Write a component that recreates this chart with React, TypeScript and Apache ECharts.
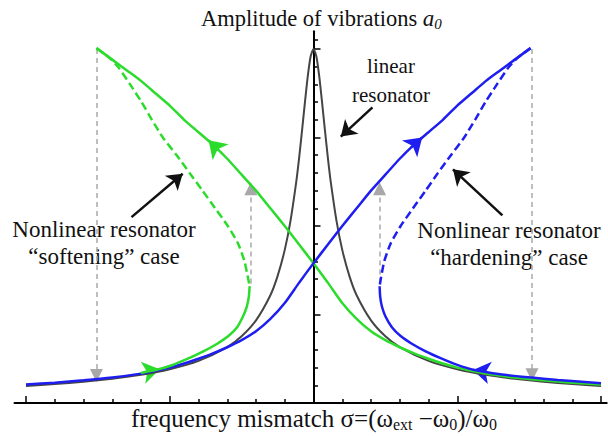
import React, { useEffect, useRef } from "react";
import * as echarts from "echarts";

const SERIF = "'Liberation Serif', 'Times New Roman', serif";
const GREEN = "#2cdc2c";
const BLUE = "#1e1ef0";
const DARK = "#454545";
const GREY = "#a8a8a8";
const INK = "#111111";

// Axis ranges and ticks (σ horizontally, amplitude vertically)
const sigmaMin = -10.4;
const sigmaMax = 10.2;
const sigmaTickMin = -10;
const sigmaTickMax = 10;
const sigmaTickStep = 5;
const ampMin = 0;
const ampMax = 21;
const majorAmpTicks = [5, 10, 15, 20];
const minorAmpTicks = [1, 2, 3, 4, 6, 7, 8, 9, 11, 12, 13, 14, 16, 17, 18, 19, 20.5];

// Linear resonator response [σ, a]
const linearResonator: [number, number][] = [
  [-10, 0.96], [-9, 1.07], [-8, 1.2], [-7, 1.37], [-6, 1.59], [-5, 1.91], [-4, 2.38],
  [-3, 3.16], [-2.5, 3.77], [-2, 4.67], [-1.5, 6.09], [-1.25, 7.17], [-1, 8.65],
  [-0.8, 10.29], [-0.6, 12.49], [-0.5, 13.85], [-0.4, 15.37], [-0.3, 16.96],
  [-0.2, 18.46], [-0.1, 19.58], [0, 20], [0.1, 19.58], [0.2, 18.46], [0.3, 16.96],
  [0.4, 15.37], [0.5, 13.85], [0.6, 12.49], [0.8, 10.29], [1, 8.65], [1.25, 7.17],
  [1.5, 6.09], [2, 4.67], [2.5, 3.77], [3, 3.16], [4, 2.38], [5, 1.91], [6, 1.59],
  [7, 1.37], [8, 1.2], [9, 1.07], [10, 0.96],
];

// Hardening case: stable branch rising from the left up to the peak
const hardeningRising: [number, number][] = [
  [-10, 1.05], [-9, 1.15], [-8, 1.28], [-7, 1.44], [-6, 1.66], [-5.5, 1.82], [-5, 2.0],
  [-4.5, 2.23], [-4, 2.5], [-3.5, 2.8], [-3, 3.15], [-2.5, 3.55], [-2, 4.05],
  [-1.5, 4.75], [-1, 5.65], [-0.5, 6.8], [0, 7.9], [0.5, 8.95], [1, 10.0], [1.5, 11.0],
  [2, 12.0], [2.5, 12.9], [3, 13.8], [3.5, 14.6], [4, 15.3], [4.5, 16.0], [5, 16.8],
  [5.5, 17.5], [6, 18.2], [6.5, 18.8], [7, 19.4], [7.55, 20.05],
];
// Hardening case: unstable branch from the peak down to the turning point
const hardeningUnstable: [number, number][] = [
  [7.55, 20.05], [7.1, 19.5], [6.8, 19.0], [6.38, 18.0], [5.98, 17.0], [5.62, 16.0],
  [5.24, 15.0], [4.78, 14.0], [4.33, 13.0], [3.9, 12.0], [3.46, 11.0], [3.03, 10.0],
  [2.68, 9.0], [2.46, 8.0], [2.34, 7.0], [2.3, 6.6],
];
// Hardening case: lower stable branch from the turning point to the right
const hardeningLower: [number, number][] = [
  [2.3, 6.6], [2.32, 6.0], [2.38, 5.45], [2.5, 4.9], [2.72, 4.3], [3.02, 3.8],
  [3.42, 3.35], [3.9, 2.92], [4.4, 2.55], [5.0, 2.15], [5.6, 1.86], [6.5, 1.62],
  [7.5, 1.45], [8.5, 1.3], [10, 1.12],
];

// Softening case: stable branch from the peak falling to the right
const softeningFalling: [number, number][] = [
  [-7.55, 20.05], [-7, 19.4], [-6.5, 18.8], [-6, 18.2], [-5.5, 17.5], [-5, 16.8],
  [-4.5, 16.0], [-4, 15.3], [-3.5, 14.6], [-3, 13.8], [-2.5, 12.9], [-2, 12.0],
  [-1.5, 11.0], [-1, 10.0], [-0.5, 8.95], [0, 7.9], [0.5, 6.8], [1, 5.65], [1.5, 4.75],
  [2, 4.05], [2.5, 3.55], [3, 3.15], [3.5, 2.8], [4, 2.5], [4.5, 2.23], [5, 2.0],
  [5.5, 1.82], [6, 1.66], [7, 1.44], [8, 1.28], [9, 1.15], [10, 1.05],
];
// Softening case: unstable branch from the peak down to the turning point
const softeningUnstable: [number, number][] = [
  [-7.55, 20.05], [-7.1, 19.5], [-6.8, 19.0], [-6.38, 18.0], [-5.98, 17.0],
  [-5.62, 16.0], [-5.24, 15.0], [-4.76, 14.0], [-4.31, 13.0], [-3.86, 12.0],
  [-3.42, 11.0], [-2.98, 10.0], [-2.62, 9.0], [-2.4, 8.0], [-2.27, 7.0], [-2.22, 6.6],
];
// Softening case: lower stable branch rising to the turning point
const softeningLower: [number, number][] = [
  [-6.0, 1.7], [-5.5, 1.86], [-4.95, 2.12], [-4.35, 2.52], [-3.85, 2.9], [-3.35, 3.35],
  [-2.95, 3.8], [-2.65, 4.3], [-2.45, 4.9], [-2.32, 5.45], [-2.25, 6.0], [-2.22, 6.6],
];

// Jumps between branches (grey dashed arrows)
const jumpArrows: [number, number][][] = [
  [[-7.55, 20.0], [-7.55, 1.55]],
  [[7.6, 20.0], [7.6, 1.6]],
  [[-2.18, 6.75], [-2.18, 12.1]],
  [[2.3, 6.75], [2.3, 12.1]],
];
// Direction of travel along the curves
const softeningFlow: [number, number][][] = [
  [[-3.3, 14.28], [-3.65, 14.84]],
  [[-5.9, 1.72], [-5.35, 1.9]],
];
const hardeningFlow: [number, number][][] = [
  [[3.4, 14.44], [3.78, 15.0]],
  [[6.0, 1.74], [5.55, 1.87]],
];
// Pointers from the captions to the curves
const captionPointers: [number, number][][] = [
  [[2.05, 16.7], [0.95, 15.05]],
  [[-6.33, 10.5], [-4.55, 12.95]],
  [[6.57, 10.6], [4.85, 13.2]],
];

const curve = (data: [number, number][], color: string, width: number, dashed = false) => ({
  type: "line",
  xAxisIndex: 0,
  yAxisIndex: 0,
  data,
  showSymbol: false,
  symbol: "none",
  smooth: 0.2,
  lineStyle: { color, width, type: dashed ? [8, 4] : "solid", cap: "butt" },
  silent: true,
});

const arrows = (segs: [number, number][][], color: string, width: number, dashed: boolean, symbol: string, size: number | number[]) => ({
  type: "lines",
  coordinateSystem: "cartesian2d",
  xAxisIndex: 0,
  yAxisIndex: 0,
  symbol: ["none", symbol],
  symbolSize: size,
  lineStyle: { color, width, type: dashed ? [5, 4] : "solid", opacity: 1 },
  itemStyle: { color },
  data: segs.map((coords) => ({ coords })),
  silent: true,
});

const hidden = { show: false };

export default function App() {
  const ref = useRef<HTMLDivElement>(null);

  useEffect(() => {
    if (!ref.current) return;
    const chart = echarts.init(ref.current, undefined, { renderer: "svg" });
    const ink = (w: number) => ({ color: "#000", width: w });
    chart.setOption({
      animation: false,
      backgroundColor: "#fff",
      grid: [
        // plotting area, axis line running past the outer ticks
        { left: 14.5, right: 1.25, top: 31.3, bottom: 33, outerBoundsMode: "none" },
        // σ ticks from -10 to 10, same scale as the plotting area
        { left: 26, right: 7, top: 31.3, bottom: 33, outerBoundsMode: "none" },
      ],
      xAxis: [
        {
          gridIndex: 0, type: "value", min: sigmaMin, max: sigmaMax, position: "bottom",
          axisLine: { show: true, onZero: false, lineStyle: ink(2) },
          axisTick: hidden, axisLabel: hidden, splitLine: hidden,
        },
        {
          gridIndex: 1, type: "value", min: sigmaTickMin, max: sigmaTickMax, interval: sigmaTickStep,
          position: "bottom",
          axisLine: { show: false, onZero: false },
          axisTick: { show: true, inside: true, length: 7, lineStyle: ink(1.5) },
          minorTick: { show: true, splitNumber: 5, length: 4, lineStyle: ink(1.5) },
          axisLabel: hidden, splitLine: hidden, minorSplitLine: hidden,
        },
      ],
      yAxis: [
        {
          gridIndex: 0, type: "value", min: ampMin, max: ampMax, position: "left",
          axisLine: { show: true, onZero: true, onZeroAxisIndex: 0, lineStyle: ink(2) },
          axisTick: { show: true, inside: true, length: 7, customValues: majorAmpTicks, lineStyle: ink(1.5) },
          axisLabel: hidden, splitLine: hidden,
        },
        {
          gridIndex: 0, type: "value", min: ampMin, max: ampMax, position: "left",
          axisLine: { show: false, onZero: true, onZeroAxisIndex: 0 },
          axisTick: { show: true, inside: true, length: 4.5, customValues: minorAmpTicks, lineStyle: ink(1.5) },
          axisLabel: hidden, splitLine: hidden,
        },
        {
          gridIndex: 1, type: "value", min: ampMin, max: ampMax, show: false,
        },
      ],
      series: [
        curve(linearResonator, DARK, 2),
        curve(softeningFalling, GREEN, 2.5),
        curve(softeningUnstable, GREEN, 2.5, true),
        curve(hardeningRising, BLUE, 2.5),
        curve(hardeningUnstable, BLUE, 2.5, true),
        curve(hardeningLower, BLUE, 2.5),
        curve(softeningLower, GREEN, 2.5),
        arrows(jumpArrows, GREY, 1.5, true, "triangle", [10, 13]),
        arrows(softeningFlow, GREEN, 2.5, false, "arrow", [13, 17]),
        arrows(hardeningFlow, BLUE, 2.5, false, "arrow", [13, 17]),
        arrows(captionPointers, "#111", 2.5, false, "arrow", [12, 15]),
      ],
      graphic: [
        {
          type: "text", x: 201, y: 18, silent: true,
          style: {
            text: "{n|Amplitude of vibrations }{i|a}{s|0}",
            align: "left", verticalAlign: "middle",
            fill: INK,
            rich: {
              n: { fontFamily: SERIF, fontSize: 22.5, lineHeight: 26, fill: INK },
              i: { fontFamily: SERIF, fontSize: 23, fontStyle: "italic", lineHeight: 26, fill: INK },
              s: { fontFamily: SERIF, fontSize: 15, fontStyle: "italic", lineHeight: 14, verticalAlign: "bottom", fill: INK },
            },
          },
        },
        {
          type: "text", x: 314, y: 418, silent: true,
          style: {
            text: "{n|frequency mismatch σ=(ω}{s|ext}{n| −ω}{s|0}{n|)/ω}{s|0}",
            align: "center", verticalAlign: "middle",
            fill: INK,
            rich: {
              n: { fontFamily: SERIF, fontSize: 25, lineHeight: 28, fill: INK },
              s: { fontFamily: SERIF, fontSize: 16, lineHeight: 15, verticalAlign: "bottom", fill: INK },
            },
          },
        },
        {
          type: "text", x: 391, y: 80, silent: true,
          style: {
            text: "linear\nresonator", align: "center", verticalAlign: "middle",
            fontFamily: SERIF, fontSize: 21, lineHeight: 29, fill: INK,
          },
        },
        {
          type: "text", x: 104, y: 243, silent: true,
          style: {
            text: "Nonlinear resonator\n“softening” case", align: "center", verticalAlign: "middle",
            fontFamily: SERIF, fontSize: 23, lineHeight: 27, fill: INK,
          },
        },
        {
          type: "text", x: 509, y: 244, silent: true,
          style: {
            text: "Nonlinear resonator\n“hardening” case", align: "center", verticalAlign: "middle",
            fontFamily: SERIF, fontSize: 23, lineHeight: 27, fill: INK,
          },
        },
      ],
    });
    return () => chart.dispose();
  }, []);

  return (
    <div
      ref={ref}
      style={{ position: "fixed", left: 0, top: 0, width: 608, height: 436, background: "#fff" }}
    />
  );
}
